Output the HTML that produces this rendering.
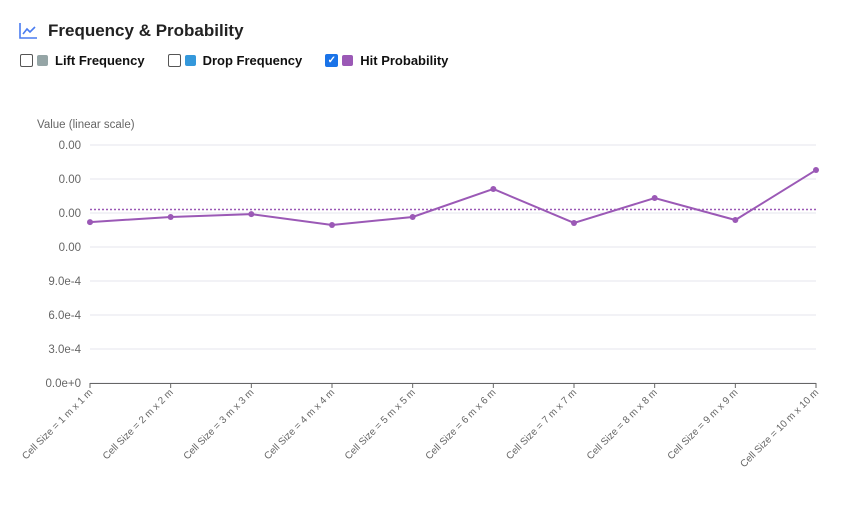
<!DOCTYPE html>
<html><head><meta charset="utf-8"><style>
body{margin:0;width:868px;height:509px;background:#fff;font-family:"Liberation Sans",sans-serif;overflow:hidden;position:relative}
.title{position:absolute;left:48px;top:21px;font-size:17px;font-weight:bold;color:#222}
.legend{position:absolute;left:20px;top:53px;display:flex;font-size:13px;font-weight:bold;color:#111}
.li{display:flex;align-items:center;margin-right:23px}
.cb{width:11px;height:11px;border:1px solid #555;border-radius:2px;margin-right:4px;background:#fff}
.cb.on{background:#1a73e8;border-color:#1a73e8;color:#fff;font-size:10px;line-height:11px;text-align:center}
.sw{width:11px;height:11px;border-radius:2px;margin-right:7px}
</style></head><body>
<svg style="position:absolute;left:19px;top:23px" width="19" height="16" viewBox="0 0 19 16"><path d="M1 0V15H18" fill="none" stroke="#4a7cf0" stroke-width="1.6"/><path d="M4 11L8 6L11 9L16 4" fill="none" stroke="#4a7cf0" stroke-width="1.6"/></svg>
<div class="title">Frequency &amp; Probability</div>
<div class="legend">
<div class="li"><div class="cb"></div><div class="sw" style="background:#95a5a6"></div>Lift Frequency</div>
<div class="li"><div class="cb"></div><div class="sw" style="background:#3498db"></div>Drop Frequency</div>
<div class="li"><div class="cb on">✓</div><div class="sw" style="background:#9b59b6"></div>Hit Probability</div>
</div>
<svg id="c" width="868" height="509" style="position:absolute;left:0;top:0"></svg>
<script>
const categories=["Cell Size = 1 m x 1 m","Cell Size = 2 m x 2 m","Cell Size = 3 m x 3 m","Cell Size = 4 m x 4 m","Cell Size = 5 m x 5 m","Cell Size = 6 m x 6 m","Cell Size = 7 m x 7 m","Cell Size = 8 m x 8 m","Cell Size = 9 m x 9 m","Cell Size = 10 m x 10 m"];
const hitProbability=[0.00142,0.001465,0.00149,0.001394,0.001465,0.001712,0.001412,0.001632,0.001438,0.001879];
const yTicks=[0,0.0003,0.0006,0.0009,0.0012,0.0015,0.0018,0.0021];
const yTickLabels=["0.0e+0","3.0e-4","6.0e-4","9.0e-4","0.00","0.00","0.00","0.00"];
const NS="http://www.w3.org/2000/svg",svg=document.getElementById('c');
const x=i=>90+i*(816-90)/(categories.length-1);
const y=v=>383-v/0.0003*34;
function mk(t,a,p){const e=document.createElementNS(NS,t);for(const k in a)e.setAttribute(k,a[k]);(p||svg).appendChild(e);return e;}
let t=mk('text',{x:37,y:128,'font-size':11.5,fill:'#666'});t.textContent="Value (linear scale)";


yTicks.forEach((v,i)=>{
 let g=mk('line',{x1:90,x2:816,y1:y(v),y2:y(v),stroke:'#e6e6ee'});
 
 
 let l=mk('text',{x:81,y:y(v)+4,'font-size':11.5,fill:'#666','text-anchor':'end'});l.textContent=yTickLabels[i];
 
 
});
let ax=mk('line',{x1:90,x2:816,y1:383.5,y2:383.5,stroke:'#666'});


categories.forEach((c,i)=>{
 let tk=mk('line',{x1:x(i),x2:x(i),y1:383,y2:388,stroke:'#666'});
 
 
 let l=mk('text',{x:x(i)+3,y:393,'font-size':10,fill:'#666','text-anchor':'end',transform:`rotate(-45 ${x(i)+3} 393)`});l.textContent=c;
 
 
});
const mean=hitProbability.reduce((a,b)=>a+b,0)/hitProbability.length;
let ml=mk('line',{x1:90,x2:816,y1:y(mean),y2:y(mean),stroke:'#9b59b6','stroke-width':1.5,'stroke-dasharray':'2,2'});


let pl=mk('polyline',{points:hitProbability.map((v,i)=>x(i)+','+y(v)).join(' '),fill:'none',stroke:'#9b59b6','stroke-width':2});


hitProbability.forEach((v,i)=>{
 let p=mk('circle',{cx:x(i),cy:y(v),r:3,fill:'#9b59b6'});
 
 
});
</script>
</body></html>
